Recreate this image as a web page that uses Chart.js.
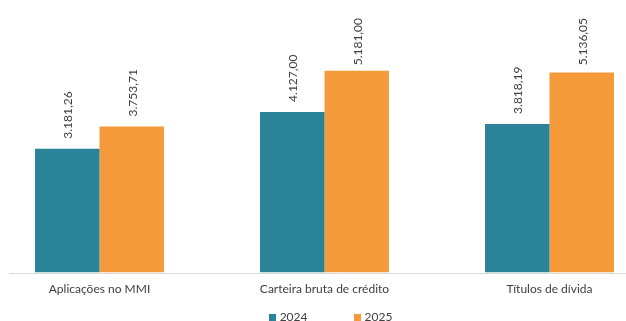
<!DOCTYPE html>
<html>
<head>
<meta charset="utf-8">
<script src="https://cdn.jsdelivr.net/npm/chart.js@4.4.1/dist/chart.umd.min.js"></script>
<style>
  html, body { margin: 0; padding: 0; background: #fff; overflow: hidden; }
  body { width: 626px; height: 321px; position: relative; font-family: Lato, "Open Sans", sans-serif; }
  #wrap { position: absolute; left: -13px; top: 0; width: 683px; height: 321px; }
  #legend { position: absolute; left: 0; width: 661px; top: 309px; height: 16px;
            display: flex; justify-content: center; align-items: center;
            font-size: 12px; color: #404040; line-height: 16px; }
  #legend .item { display: flex; align-items: center; margin: 0 23px; }
  #legend .box { width: 7px; height: 7px; margin-right: 4px; }
</style>
</head>
<body>
<div id="wrap"><canvas id="myChart" width="683" height="321"></canvas></div>
<div id="legend"></div>
<script>
var categories = ["Aplicações no MMI", "Carteira bruta de crédito", "Títulos de dívida"];
var years = ["2024", "2025"];
var values2024 = [3181.26, 4127.00, 3818.19];
var values2025 = [3753.71, 5181.00, 5136.05];
var colors = ["#2b8399", "#f59a3a"];

var textColor = "#404040";
var fontFamily = "Lato, 'Open Sans', sans-serif";

// formata no padrão brasileiro: 3.181,26
function fmt(v) {
    var parts = v.toFixed(2).split(".");
    parts[0] = parts[0].replace(/\B(?=(\d{3})+(?!\d))/g, ".");
    return parts[0] + "," + parts[1];
}

// rótulos verticais acima de cada barra (não deixa passar do topo)
var barLabels = {
    id: "barLabels",
    afterDatasetsDraw: function(chart) {
        var ctx = chart.ctx;
        ctx.save();
        ctx.fillStyle = textColor;
        ctx.font = "12px " + fontFamily;
        ctx.textAlign = "left";
        ctx.textBaseline = "middle";
        chart.data.datasets.forEach(function(ds, i) {
            chart.getDatasetMeta(i).data.forEach(function(bar, j) {
                var txt = fmt(ds.data[j]);
                var w = ctx.measureText(txt).width;
                var y = Math.max(bar.y - 10, 18 + w);
                ctx.save();
                ctx.translate(bar.x + 1, y);
                ctx.rotate(-Math.PI / 2);
                ctx.fillText(txt, 0, 0);
                ctx.restore();
            });
        });
        ctx.restore();
    }
};

// linha do eixo horizontal
var baseLine = {
    id: "baseLine",
    beforeDatasetsDraw: function(chart) {
        var ctx = chart.ctx;
        var y = Math.round(chart.scales.y.getPixelForValue(0)) + 0.5;
        ctx.save();
        ctx.strokeStyle = "#d9d9d9";
        ctx.lineWidth = 1;
        ctx.beginPath();
        ctx.moveTo(22, y);
        ctx.lineTo(chart.width, y);
        ctx.stroke();
        ctx.restore();
    }
};

var ctx = document.getElementById("myChart").getContext("2d");
var myChart = new Chart(ctx, {
    type: "bar",
    data: {
        labels: categories,
        datasets: [{
            label: years[0],
            backgroundColor: colors[0],
            data: values2024
        }, {
            label: years[1],
            backgroundColor: colors[1],
            data: values2025
        }]
    },
    options: {
        responsive: false,
        animation: false,
        layout: { padding: { left: 0, right: 8, top: 0, bottom: 16 } },
        datasets: {
            bar: { barPercentage: 1, categoryPercentage: 0.573 }
        },
        scales: {
            x: {
                grid: { display: false, drawTicks: false },
                border: { display: false },
                ticks: {
                    color: textColor,
                    font: { family: fontFamily, size: 12 },
                    padding: 9
                }
            },
            y: {
                display: false,
                min: 0,
                max: 7000
            }
        },
        plugins: {
            legend: { display: false },
            tooltip: { enabled: false }
        }
    },
    plugins: [baseLine, barLabels]
});

// legenda em HTML
var legend = document.getElementById("legend");
myChart.data.datasets.forEach(function(ds) {
    var item = document.createElement("div");
    item.className = "item";
    var box = document.createElement("span");
    box.className = "box";
    box.style.background = ds.backgroundColor;
    item.appendChild(box);
    item.appendChild(document.createTextNode(ds.label));
    legend.appendChild(item);
});
</script>
</body>
</html>
